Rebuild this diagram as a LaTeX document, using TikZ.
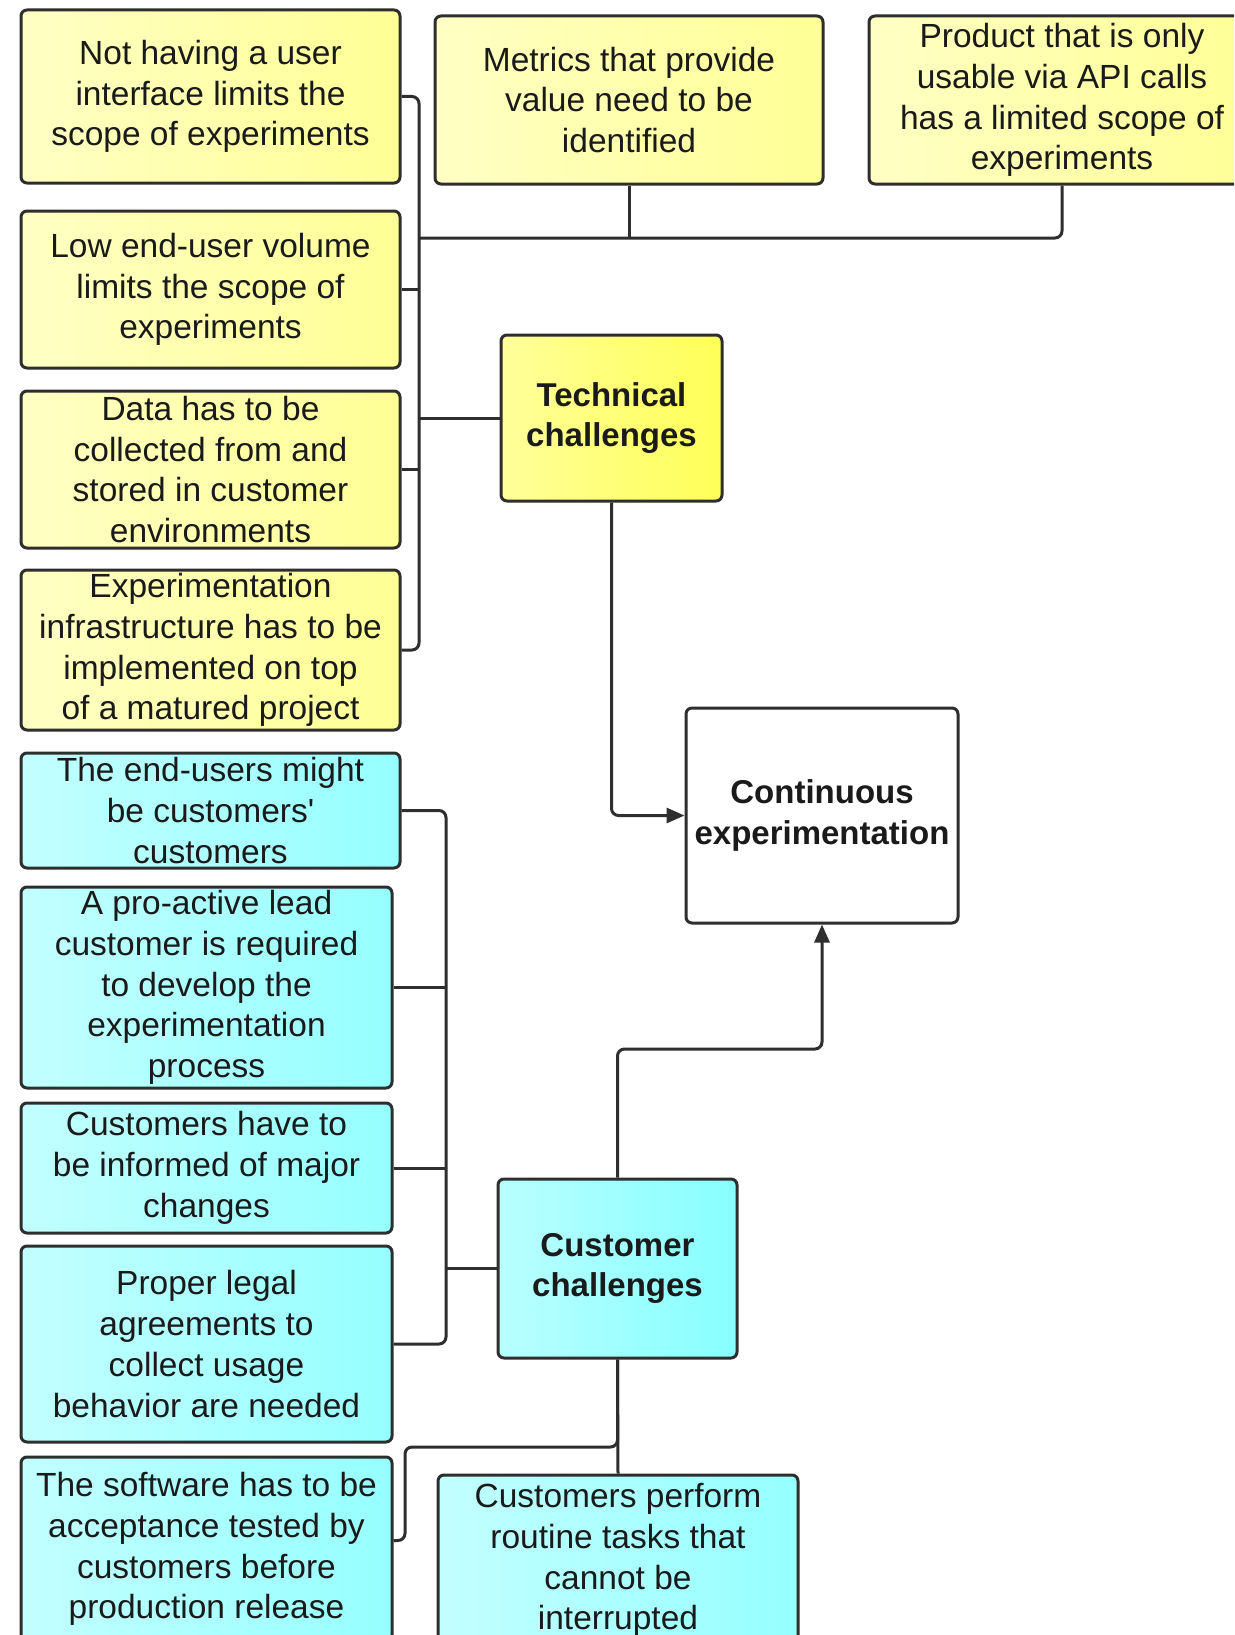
\documentclass[tikz,border=0pt]{standalone}
\usepackage{fontspec}
\setmainfont{Liberation Sans}
\usetikzlibrary{arrows.meta,calc}

\definecolor{edge}{HTML}{2E2E2E}
\definecolor{ink}{HTML}{1A1A1A}
\definecolor{ylwA}{HTML}{FFFFC4}
\definecolor{ylwB}{HTML}{FFFF96}
\definecolor{ylwC}{HTML}{FFFF9A}
\definecolor{ylwD}{HTML}{FFFF58}
\definecolor{cynA}{HTML}{C2FFFF}
\definecolor{cynB}{HTML}{96FFFF}

\tikzset{
  box/.style={draw=edge, line width=3pt, rounded corners=6pt, inner sep=0pt,
    align=center, text=ink,
    font=\fontsize{33.5pt}{40.7pt}\selectfont},
  ybox/.style={box, left color=ylwA, right color=ylwB},
  tbox/.style={box, left color=ylwC, right color=ylwD,
    font=\fontsize{33pt}{40.7pt}\selectfont\bfseries},
  cbox/.style={box, left color=cynA, right color=cynB},
  hbox/.style={box, left color=cynA!80!cynB, right color=cynB!90!cyan,
    font=\fontsize{33pt}{40.7pt}\selectfont\bfseries},
  wbox/.style={box, fill=white,
    font=\fontsize{33pt}{40.7pt}\selectfont\bfseries},
  conn/.style={draw=edge, line width=3pt, rounded corners=7pt},
  arr/.style={conn, -{Triangle[length=18pt,width=15pt]}},
}

\begin{document}
\begin{tikzpicture}[x=1pt,y=-1pt]
\useasboundingbox (0,0) rectangle (1234,1635);
\clip (0,0) rectangle (1234,1635);
\fill[white] (0,0) rectangle (1234,1635);

% technical challenge boxes
\node[ybox, minimum width=379pt, minimum height=173pt] (b1) at (210.5,96.5)
  {Not having a user\\interface limits the\\scope of experiments};
\node[ybox, minimum width=379pt, minimum height=157pt] (b2) at (210.5,289.5)
  {Low end-user volume\\limits the scope of\\experiments};
\node[ybox, minimum width=379pt, minimum height=157pt] (b3) at (210.5,469.5)
  {Data has to be\\collected from and\\stored in customer\\environments};
\node[ybox, minimum width=379pt, minimum height=160pt] (b4) at (210.5,650)
  {Experimentation\\infrastructure has to be\\implemented on top\\of a matured project};
\node[ybox, minimum width=388pt, minimum height=168pt] (b5) at (629,100)
  {Metrics that provide\\value need to be\\identified};
\node[ybox, minimum width=386pt, minimum height=168pt] (b6) at (1062,100)
  {Product that is only\\usable via API calls\\has a limited scope of\\experiments};

\node[tbox, minimum width=221pt, minimum height=166pt] (tech) at (611.5,418)
  {Technical\\challenges};

\node[wbox, minimum width=272pt, minimum height=215pt] (ce) at (822,815.5)
  {Continuous\\experimentation};

% customer challenge boxes
\node[cbox, minimum width=379pt, minimum height=115pt] (c1) at (210.5,810.5)
  {The end-users might\\be customers\textquotesingle\\customers};
\node[cbox, minimum width=371pt, minimum height=201pt] (c2) at (206.5,987.5)
  {A pro-active lead\\customer is required\\to develop the\\experimentation\\process};
\node[cbox, minimum width=371pt, minimum height=130pt] (c3) at (206.5,1168)
  {Customers have to\\be informed of major\\changes};
\node[cbox, minimum width=371pt, minimum height=196pt] (c4) at (206.5,1344)
  {Proper legal\\agreements to\\collect usage\\behavior are needed};
\node[cbox, minimum width=371pt, minimum height=184pt] (c5) at (206.5,1549)
  {The software has to be\\acceptance tested by\\customers before\\production release};
\node[cbox, minimum width=360pt, minimum height=170pt] (c6) at (618,1560)
  {Customers perform\\routine tasks that\\cannot be\\interrupted};

\node[hbox, minimum width=239pt, minimum height=179pt] (cc) at (617.5,1268.5)
  {Customer\\challenges};

% bus points
\coordinate (tbus) at (419,650);
\coordinate (ttop) at (419,238);
\coordinate (cbus) at (446,1344);
\coordinate (cup) at (822,1049);
\coordinate (clow) at (405,1447);

% technical bus
\draw[conn] (b1.east) -| (tbus) -- (b4.east);
\draw[conn] (b2.east) -- (b2.east -| tbus);
\draw[conn] (b3.east) -- (b3.east -| tbus);
\draw[conn] (tech.west) -- (tech.west -| tbus);
\draw[conn] (b6.south) |- (ttop);
\draw[conn] (b5.south) -- (b5.south |- ttop);

% customer bus
\draw[conn] (c1.east) -| (cbus) -- (c4.east);
\draw[conn] (c2.east) -- (c2.east -| cbus);
\draw[conn] (c3.east) -- (c3.east -| cbus);
\draw[conn] (cc.west) -- (cc.west -| cbus);
\draw[conn] (cc.south) -- (c6.north);
\draw[conn] (cc.south) |- (clow) |- ([yshift=-85pt]c5.north east);

% links to the central goal
\draw[arr] (tech.south) |- (ce.west);
\draw[arr] (cc.north) |- (cup) -- (ce.south);
\end{tikzpicture}
\end{document}
